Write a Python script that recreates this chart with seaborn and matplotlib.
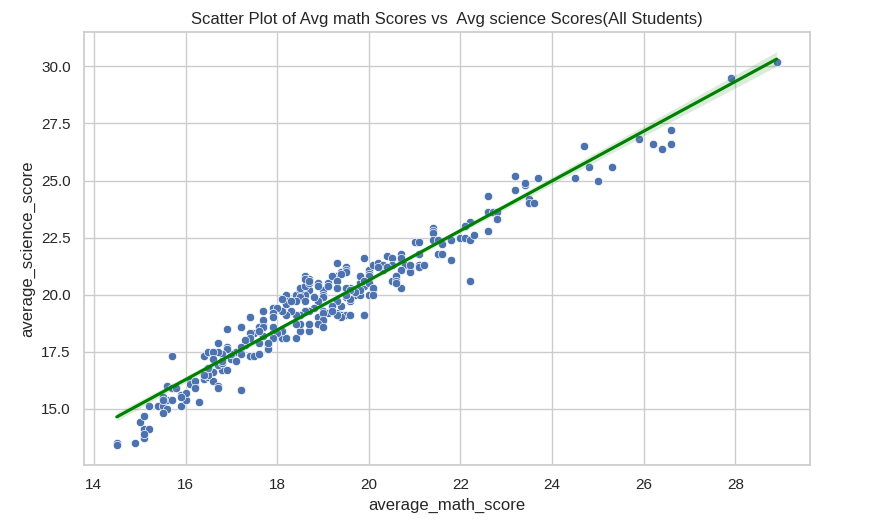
import matplotlib
matplotlib.use("Agg")
import matplotlib.pyplot as plt
import seaborn as sns
import pandas as pd

math_low = [14.5, 14.5, 14.9, 15.1, 15.1, 15.2, 15.1, 15.0, 15.1, 15.2, 15.4, 15.5, 15.6, 15.5, 15.9, 16.3, 15.7,
            15.6, 15.7, 15.8, 15.9, 16.0, 16.0, 15.9, 15.6, 15.7, 15.5, 15.5,
            16.1, 16.2, 16.2, 16.1, 16.4, 16.5, 16.4, 16.5, 16.6, 16.7, 16.9, 16.9, 17.1, 17.2, 17.2,
            16.6, 16.7, 16.8, 16.9, 16.6, 16.5, 16.5, 16.7, 16.8, 17.0, 17.0, 17.2, 17.2, 17.4, 17.6, 17.8,
            17.3, 17.6, 17.7, 17.5, 17.4, 17.9, 17.9, 17.7, 17.6, 17.7, 17.9, 17.4,
            16.9, 16.8, 16.7, 16.6, 16.6, 16.8, 16.4, 16.7, 16.2, 16.2]
sci_low = [13.5, 13.4, 13.5, 13.7, 14.1, 14.1, 13.9, 14.4, 14.7, 15.1, 15.1, 15.1, 15.0, 14.8, 15.1, 15.3, 17.3,
           16.0, 15.9, 15.9, 15.6, 15.4, 15.7, 15.5, 15.4, 15.4, 15.5, 15.4,
           16.2, 16.2, 16.0, 16.1, 16.3, 16.4, 17.3, 17.5, 17.5, 17.9, 17.7, 18.5, 17.5, 18.6, 15.8,
           16.2, 16.0, 16.7, 16.7, 16.6, 16.5, 16.8, 16.9, 17.0, 17.2, 17.4, 17.5, 17.7, 17.3, 17.4, 17.6,
           17.8, 17.9, 18.2, 18.3, 18.1, 18.3, 18.6, 18.7, 18.6, 19.3, 19.4, 19.0,
           17.6, 17.4, 17.5, 17.5, 17.2, 17.1, 16.5, 15.9, 16.2, 15.9]

math_mid = [19.5, 19.5, 19.4, 19.3, 19.2, 19.1, 19.0, 18.9, 19.0, 19.0, 18.9, 18.7, 18.6, 18.6, 18.7, 18.8,
            18.8, 18.7, 18.6, 18.5, 18.4, 18.3, 18.2, 18.1, 18.2, 18.2, 18.2, 18.1, 18.0, 17.9, 17.9, 17.7,
            17.7, 17.7, 17.6, 17.4, 17.4, 17.3, 17.2, 17.2, 17.1, 17.4, 17.2, 17.5, 17.6, 17.8, 17.8,
            18.1, 18.2, 18.4, 18.5, 18.7, 18.1, 18.0, 17.9, 17.8, 18.9, 19.0, 19.1, 19.3, 19.4, 19.5, 19.9,
            19.4, 19.3, 19.2, 19.5, 19.6, 19.7, 19.8, 19.6, 19.5, 19.8, 19.9,
            18.4, 18.5, 18.5, 18.6, 18.7, 18.5, 18.4, 18.3, 18.6,
            19.9, 19.3, 19.5, 19.5, 19.4, 18.7, 18.6, 18.7, 18.9, 19.1, 19.2, 19.3, 19.3,
            19.8, 20.0, 20.0, 20.0, 20.1, 20.1, 19.9, 19.8, 19.7, 19.6, 19.6, 19.5, 20.0,
            19.9, 19.6, 19.4, 19.3, 19.2, 19.0, 19.0, 18.9, 19.0, 18.7, 18.5, 18.4]
sci_mid = [21.0, 21.2, 21.0, 20.8, 20.8, 20.5, 20.2, 20.5, 20.0, 19.9, 19.7, 20.2, 20.0, 20.8, 20.6, 19.9,
           19.4, 19.3, 19.3, 19.1, 19.1, 19.3, 19.1, 19.3, 20.0, 19.7, 19.6, 19.8, 19.4, 19.2, 19.0, 19.3,
           18.9, 18.6, 18.4, 18.3, 18.1, 18.0, 17.7, 17.4, 17.1, 19.0, 18.6, 17.3, 17.4, 17.8, 17.6,
           18.1, 18.1, 18.1, 18.4, 18.4, 18.4, 18.3, 18.1, 17.9, 19.0, 19.3, 19.2, 19.2, 19.1, 19.1, 19.1,
           19.5, 19.7, 19.5, 19.9, 19.7, 20.0, 20.0, 20.3, 20.3, 20.5, 20.4,
           20.0, 20.2, 20.3, 20.4, 20.5, 19.9, 19.7, 19.7, 19.7,
           21.6, 21.4, 21.1, 21.0, 20.9, 20.7, 20.7, 20.6, 20.4, 20.4, 20.8, 20.6, 20.3,
           20.8, 21.1, 20.8, 20.6, 20.3, 20.2, 20.4, 20.2, 20.1, 20.2, 19.8, 20.0, 20.0,
           19.1, 19.1, 19.0, 19.1, 19.3, 19.2, 18.9, 18.7, 18.6, 18.7, 18.7, 18.7]

math_high = [20.4, 20.5, 20.7, 20.7, 20.8, 20.9, 20.9, 21.1, 21.1, 20.5, 20.7, 20.5, 20.7, 20.6,
             20.0, 20.1, 20.2, 20.3, 20.3, 20.0, 20.0, 19.9, 20.0, 20.1, 20.1,
             20.7, 20.9, 21.2, 20.6, 20.6, 20.3, 20.2, 20.4,
             21.4, 21.4, 21.4, 21.4, 21.0, 21.1, 21.5, 21.8, 21.6, 21.5, 21.6, 21.8, 21.1,
             22.0, 22.1, 22.2, 22.2, 22.1, 22.3, 22.2, 22.6, 22.6, 22.7, 22.8, 22.8, 22.6,
             23.2, 23.7, 23.4, 23.4, 23.2, 23.5, 23.5, 23.6, 24.5, 24.7, 24.8, 25.3, 25.0,
             25.9, 26.2, 26.4, 26.6, 26.6, 27.9, 28.9]
sci_high = [21.7, 21.6, 21.8, 21.5, 21.3, 21.1, 21.0, 21.3, 21.2, 21.3, 21.1, 20.6, 20.3, 20.8,
            21.1, 21.3, 21.4, 21.2, 21.1, 20.9, 20.8, 20.6, 20.5, 20.3, 20.0,
            21.6, 21.3, 21.3, 20.6, 20.5, 21.3, 21.2, 21.2,
            22.9, 22.8, 22.7, 22.4, 22.3, 22.3, 22.4, 22.4, 22.2, 21.8, 21.8, 21.5, 21.8,
            22.5, 22.5, 22.4, 23.2, 23.0, 22.6, 20.6, 24.3, 23.6, 23.6, 23.6, 23.3, 22.8,
            25.2, 25.1, 24.8, 24.9, 24.6, 24.2, 24.0, 24.0, 25.1, 26.5, 25.6, 25.6, 25.0,
            26.8, 26.6, 26.4, 26.6, 27.2, 29.5, 30.2]

df = pd.DataFrame({
    "average_math_score": math_low + math_mid + math_high,
    "average_science_score": sci_low + sci_mid + sci_high,
})

sns.set_theme(style="whitegrid")
plt.rcParams["font.family"] = ["Liberation Sans", "DejaVu Sans"]
fig = plt.figure(figsize=(8.82, 5.23), dpi=100)
ax = fig.add_axes([0.095, 0.111, 0.823, 0.828])
sns.scatterplot(data=df, x="average_math_score", y="average_science_score", ax=ax)
sns.regplot(data=df, x="average_math_score", y="average_science_score", scatter=False,
            color="green", ax=ax)
ax.set_title("Scatter Plot of Avg math Scores vs  Avg science Scores(All Students)")
fig.savefig("out.png", dpi=100)
